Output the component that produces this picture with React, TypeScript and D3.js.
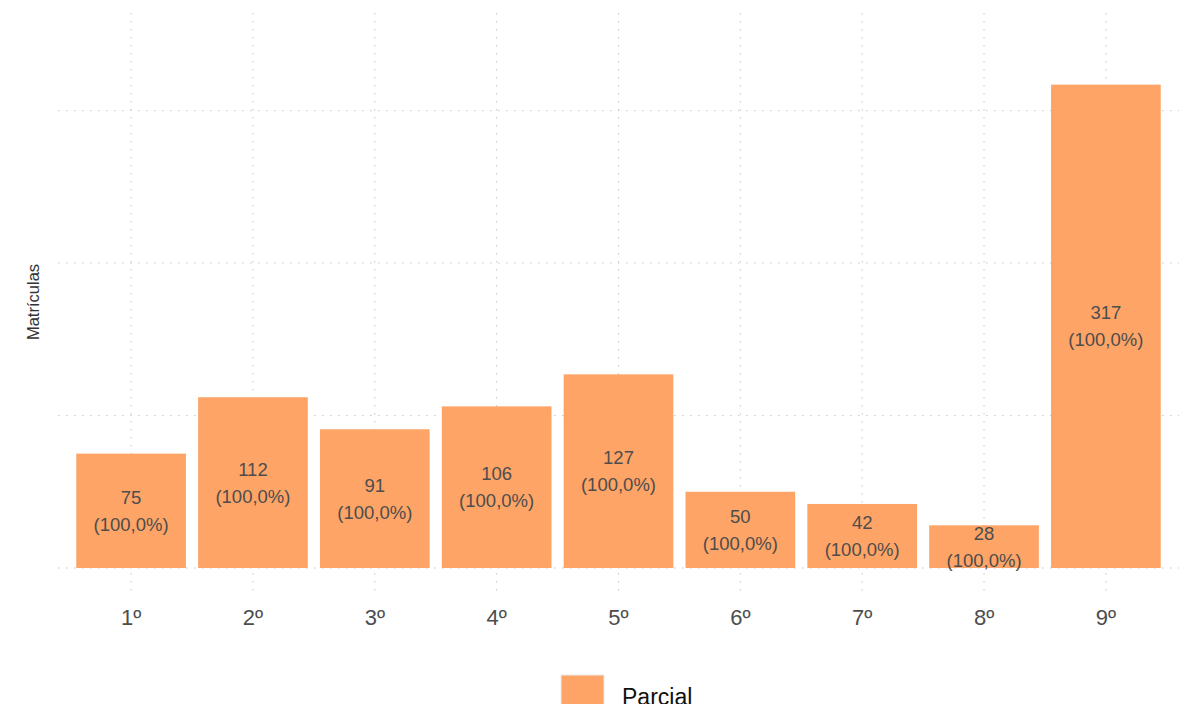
import React from "react";
import * as d3 from "d3";

const categories = ["1º", "2º", "3º", "4º", "5º", "6º", "7º", "8º", "9º"];
const values = [75, 112, 91, 106, 127, 50, 42, 28, 317];
const percentLabels = ["(100,0%)", "(100,0%)", "(100,0%)", "(100,0%)", "(100,0%)", "(100,0%)", "(100,0%)", "(100,0%)", "(100,0%)"];
const yTicks = [0, 100, 200, 300];
const seriesName = "Parcial";
const yTitle = "Matrículas";

const W = 1189;
const H = 712;
const FONT = "'Liberation Sans', Arial, Helvetica, sans-serif";
const BAR_FILL = "#FD9A55";

export default function App() {
  const panelLeft = 58;
  const panelRight = 1179;
  const panelTop = 13;
  const panelBottom = 593;

  const step = (panelRight - panelLeft) / (categories.length + 0.2);
  const x = d3
    .scaleBand<string>()
    .domain(categories)
    .range([panelLeft + 0.1 * step, panelRight - 0.1 * step])
    .paddingInner(0.1)
    .paddingOuter(0.05);

  const y = d3.scaleLinear().domain([-16.4, 364]).range([panelBottom, panelTop]);

  return (
    <div style={{ margin: -8, height: H, overflow: "hidden" }}>
      <svg width={W} height={H} style={{ display: "block", background: "#fff" }}>
        {yTicks.map((t) => (
          <line
            key={"h" + t}
            x1={panelLeft}
            x2={panelRight}
            y1={y(t)}
            y2={y(t)}
            stroke="#c8c8c8"
            strokeWidth={1}
            strokeDasharray="1.5,6.5"
          />
        ))}
        {categories.map((c) => {
          const cx = (x(c) as number) + x.bandwidth() / 2;
          return (
            <line
              key={"v" + c}
              x1={cx}
              x2={cx}
              y1={panelTop}
              y2={panelBottom}
              stroke="#c8c8c8"
              strokeWidth={1}
              strokeDasharray="1.5,6.5"
            />
          );
        })}
        {categories.map((c, i) => (
          <rect
            key={"b" + c}
            x={x(c)}
            y={y(values[i])}
            width={x.bandwidth()}
            height={y(0) - y(values[i])}
            fill={BAR_FILL}
            fillOpacity={0.9}
          />
        ))}
        {categories.map((c, i) => {
          const cx = (x(c) as number) + x.bandwidth() / 2;
          const mid = y(values[i] / 2);
          return (
            <g key={"l" + c} fontFamily={FONT} fontSize={18.5} fill="#4d4d4d" textAnchor="middle">
              <text x={cx} y={mid - 13.5} dy="0.35em">
                {values[i]}
              </text>
              <text x={cx} y={mid + 13.5} dy="0.35em">
                {percentLabels[i]}
              </text>
            </g>
          );
        })}
        {categories.map((c) => {
          const cx = (x(c) as number) + x.bandwidth() / 2;
          return (
            <text
              key={"x" + c}
              x={cx}
              y={617}
              dy="0.35em"
              textAnchor="middle"
              fontFamily={FONT}
              fontSize={22}
              fill="#4d4d4d"
            >
              {c}
            </text>
          );
        })}
        <text
          transform={`translate(39,${(panelTop + panelBottom) / 2 - 1}) rotate(-90)`}
          textAnchor="middle"
          fontFamily={FONT}
          fontSize={16.5}
          fill="#333"
        >
          {yTitle}
        </text>
        <rect x={561} y={675} width={43} height={43} fill={BAR_FILL} fillOpacity={0.9} stroke="#ececec" strokeWidth={1} />
        <text x={622} y={697} dy="0.35em" fontFamily={FONT} fontSize={23} fill="#111">
          {seriesName}
        </text>
      </svg>
    </div>
  );
}
